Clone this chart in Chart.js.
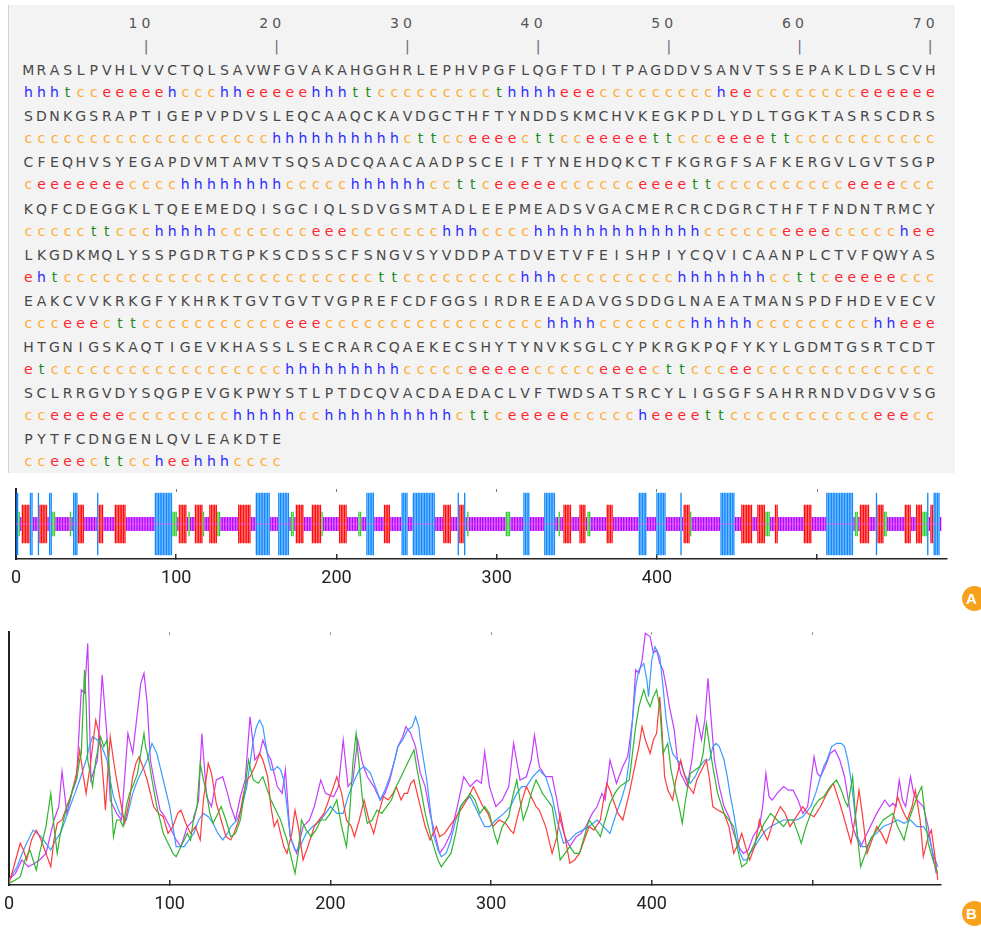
<!DOCTYPE html>
<html><head><meta charset="utf-8">
<script src="https://cdn.jsdelivr.net/npm/chart.js@4.4.1/dist/chart.umd.min.js"></script>
<style>
html,body{margin:0;padding:0;background:#fff;}
body{width:981px;height:930px;position:relative;overflow:hidden;}
#seqPanel{position:absolute;left:8px;top:5px;width:946px;height:468px;background:#f3f3f3;border-left:1px solid #cfd3da;}
.row{position:absolute;left:0;height:14px;line-height:14px;font-family:"DejaVu Sans";font-size:14px;white-space:nowrap;}
.cell{position:absolute;top:0;width:14px;text-align:center;}
canvas{position:absolute;left:0;}
.badge{position:absolute;left:962px;width:25px;height:25px;border-radius:50%;background:#f6a21d;color:#fff;font:bold 15px "Liberation Sans";line-height:25px;text-align:center;text-indent:-6px;}
</style></head><body>
<div id="seqPanel"></div>
<canvas id="trackChart" width="981" height="120" style="top:480px"></canvas>
<canvas id="lineChart" width="981" height="310" style="top:620px"></canvas>
<div class="badge" style="top:586px">A</div>
<div class="badge" style="top:901px">B</div>
<script>
// ---------- sequence panel data ----------
const rulerLabels = ['10','20','30','40','50','60','70'];
const seqLines = [
 'MRASLPVHLVVCTQLSAVWFGVAKAHGGHRLEPHVPGFLQGFTDITPAGDDVSANVTSSEPAKLDLSCVH',
 'SDNKGSRAPTIGEPVPDVSLEQCAAQCKAVDGCTHFTYNDDSKMCHVKEGKPDLYDLTGGKTASRSCDRS',
 'CFEQHVSYEGAPDVMTAMVTSQSADCQAACAADPSCEIFTYNEHDQKCTFKGRGFSAFKERGVLGVTSGP',
 'KQFCDEGGKLTQEEMEDQISGCIQLSDVGSMTADLEEPMEADSVGACMERCRCDGRCTHFTFNDNTRMCY',
 'LKGDKMQLYSSPGDRTGPKSCDSSCFSNGVSYVDDPATDVETVFEISHPIYCQVICAANPLCTVFQWYAS',
 'EAKCVVKRKGFYKHRKTGVTGVTVGPREFCDFGGSIRDREEADAVGSDDGLNAEATMANSPDFHDEVECV',
 'HTGNIGSKAQTIGEVKHASSLSECRARCQAEKECSHYTYNVKSGLCYPKRGKPQFYKYLGDMTGSRTCDT',
 'SCLRRGVDYSQGPEVGKPWYSTLPTDCQVACDAEDACLVFTWDSATSRCYLIGSGFSAHRRNDVDGVVSG',
 'PYTFCDNGENLQVLEAKDTE'
];
// secondary-structure annotation, written as runs per line
const ssRuns1 = ['hhh','t','cc','eeeee','h','ccc','hh','eeeee','hhh','tt','ccccccccc','t','hhhh','eee','ccccccccc','h','ee','cccccccc','eeeeee'];
const ssRuns2 = ['ccccccccccccccccccc','hhhhhhhhhh','c','tt','cc','eeee','c','tt','cc','eeeee','tt','ccc','eeee','tt','ccccccccccc'];
const ssRuns3 = ['c','eeeeeee','cccc','hhhhhhhh','ccccc','hhhhhh','cc','tt','c','eeeee','cccccc','eeee','tt','cccccccccc','eeee','ccc'];
const ssRuns4 = ['ccccc','tt','ccc','hhhhh','ccccccc','eee','ccccccc','hhh','cccc','hhhhhhhhhhhhh','cccccc','eeee','ccccc','h','ee'];
const ssRuns5 = ['e','h','t','cccccccccccccccccccccccc','tt','ccccccccc','hhh','ccccccccc','hhhhhhh','cc','tt','c','eeeee','ccc'];
const ssRuns6 = ['ccc','eee','c','tt','ccccccccccc','eee','ccccccccccccccccc','hhhh','ccccccc','hhhhh','ccccccccc','hh','eee'];
const ssRuns7 = ['e','t','cccccccccccccccccc','hhhhhhhhh','ccccc','eeeee','ccccc','eeee','c','tt','ccc','ee','cccccccccccccc'];
const ssRuns8 = ['cc','eeeeee','cccccccc','hhhhh','cc','hhhhhhhhhh','c','tt','c','eeeee','ccccc','h','eeee','tt','ccccccccccc','eee','cc'];
const ssRuns9 = ['cc','eee','c','tt','cc','h','ee','hhh','cccc'];
const ssLines = [ssRuns1,ssRuns2,ssRuns3,ssRuns4,ssRuns5,ssRuns6,ssRuns7,ssRuns8,ssRuns9].map(r => r.join(''));

// ---------- panel A (secondary-structure track) data ----------
const trackLength = 578;
const helixRuns = [[0,1],[9,10],[14,14],[21,22],[36,38],[51,51],[87,97],[150,158],[164,170],[219,223],[241,244],[248,261],[276,276],[280,280],[317,320],[330,336],[389,393],[400,405],[415,415],[440,448],[506,522],[537,537],[569,569],[573,576]];
const strandRuns = [[4,8],[15,19],[39,42],[52,54],[62,68],[102,106],[112,116],[121,125],[139,146],[175,179],[185,190],[202,206],[230,233],[267,271],[277,279],[342,346],[352,355],[369,372],[417,420],[453,459],[463,467],[474,475],[492,496],[527,532],[538,541],[555,558],[562,565],[571,572]];
const turnRuns = [[2,2],[23,24],[34,34],[98,100],[108,108],[117,117],[126,127],[172,173],[191,191],[214,215],[282,282],[306,308],[339,339],[357,358],[421,421],[468,470],[524,525],[542,543],[566,568]];
const xTickLabels = ['0','100','200','300','400'];

// ---------- panel B (profile lines) data ----------
const purpleRes = [0,4,8,12,16,19,23,28,31,33,36,39,42,45,47,49,51,55,58,61,63,67,70,74,77,82,84,86,88,91,94,97,100,104,107,111,115,118,120,123,126,129,133,136,138,141,144,147,150,153,156,158,161,163,167,170,172,175,179,183,187,190,194,197,202,205,208,211,214,217,220,223,227,231,234,237,240,242,245,247,250,253,256,259,262,265,268,271,275,279,283,287,291,294,296,299,303,307,311,314,318,322,325,327,330,334,338,341,343,346,349,353,356,359,363,366,369,371,374,378,382,385,388,390,392,394,396,399,401,403,405,407,409,411,414,416,418,420,422,425,428,431,433,435,437,439,442,445,448,451,454,457,460,463,467,469,471,473,475,478,482,485,488,491,494,497,501,503,505,508,511,514,517,520,523,525,528,530,533,536,540,545,548,550,552,554,556,558,561,563,565,569,572,574,577];
const purpleVal = [2.0,4.6,9.9,7.2,8.6,9.9,12.5,25.7,31.0,44.8,28.3,36.2,41.5,77.1,75.8,95.5,41.5,49.4,83.0,58.6,33.6,28.3,25.7,59.9,52.0,79.7,83.7,71.8,49.4,38.9,29.6,27.0,23.1,17.8,15.2,23.1,25.7,33.6,59.9,34.9,31.0,41.5,42.8,36.2,31.0,25.7,34.9,41.5,66.5,49.4,52.0,57.3,52.0,49.4,38.9,36.2,45.5,19.1,12.5,23.1,25.7,31.0,41.5,36.2,34.9,38.9,57.3,38.9,41.5,57.3,48.1,42.8,38.9,33.6,36.2,41.5,49.4,54.7,58.6,62.6,59.9,54.7,44.1,38.9,28.3,20.4,12.5,15.2,20.4,31.0,42.8,38.9,41.5,40.2,52.7,38.9,31.0,33.6,38.9,56.0,41.5,42.8,49.4,59.3,46.8,42.8,42.8,33.6,25.7,19.1,15.2,19.1,20.4,23.1,28.3,31.0,36.2,33.6,49.4,40.2,46.8,50.7,65.2,85.0,83.7,88.9,99.5,98.2,91.6,92.9,87.6,85.0,78.4,70.5,61.3,49.4,44.1,41.5,38.9,49.4,66.5,57.3,65.2,81.7,65.2,49.4,38.9,31.0,27.0,20.4,15.2,12.5,13.8,19.1,23.1,31.0,44.1,34.9,33.6,36.2,38.9,37.5,37.5,33.6,28.3,31.0,50.7,44.1,42.8,46.8,52.0,53.4,49.4,42.8,31.0,23.1,17.8,15.2,19.1,23.1,28.3,33.6,31.0,32.3,31.0,41.5,33.6,31.0,42.8,36.2,33.6,31.0,23.1,15.2,4.6];
const blueRes = [0,5,10,15,20,26,29,32,35,38,41,44,48,50,52,55,57,61,63,65,69,73,77,80,82,86,89,92,94,96,100,104,109,112,115,118,121,124,127,130,133,136,138,142,145,148,150,152,154,156,158,159,161,163,165,167,169,171,173,175,178,180,183,185,189,194,197,200,204,208,211,215,218,221,225,228,231,234,237,240,242,245,248,251,253,255,256,258,260,262,264,267,269,272,275,278,281,284,287,290,293,296,299,303,308,312,316,319,322,326,330,334,336,338,341,345,349,353,357,361,366,370,374,376,378,381,384,386,388,390,392,395,397,398,400,402,404,405,407,409,411,413,416,418,421,424,427,430,433,436,438,440,442,445,447,449,451,453,455,457,459,461,464,468,471,474,478,482,486,490,494,499,502,505,507,509,512,515,518,520,522,524,526,528,531,534,537,540,544,549,553,557,561,565,569,572,575,578];
const blueVal = [2.0,7.2,15.2,21.7,19.1,13.8,17.8,20.4,25.7,31.0,36.2,41.5,49.4,54.7,58.6,57.3,56.0,49.4,41.5,34.9,28.3,25.7,36.2,41.5,44.1,49.4,56.0,52.0,46.8,41.5,31.0,15.2,15.2,17.8,20.4,25.7,28.3,27.0,24.4,20.4,17.8,20.4,23.1,25.7,31.0,38.9,48.1,57.3,62.6,65.2,62.6,58.6,50.7,45.5,45.5,46.8,45.5,41.5,31.0,19.1,13.8,13.8,17.8,20.4,23.1,25.7,28.3,31.0,28.3,28.3,34.9,41.5,45.5,46.8,44.1,38.9,33.6,37.5,42.8,49.4,54.7,57.3,61.3,62.6,66.5,62.6,57.3,49.4,41.5,31.0,20.4,13.8,11.2,12.5,17.8,25.7,31.0,33.6,34.9,31.0,27.0,23.1,23.1,25.7,28.3,31.0,36.2,38.9,38.9,42.8,45.5,42.8,38.9,34.9,25.7,16.5,17.8,20.4,21.7,23.1,25.7,23.1,20.4,24.4,28.3,33.6,40.2,49.4,65.2,78.4,85.0,87.6,81.0,74.4,88.9,94.2,91.6,90.2,78.4,65.2,57.3,52.0,49.4,48.1,42.8,40.2,42.8,46.8,49.4,49.4,54.7,56.0,54.7,49.4,42.8,34.9,28.3,20.4,12.5,9.9,9.9,12.5,15.2,19.1,21.7,23.1,24.4,25.7,25.7,25.7,27.0,31.0,36.2,42.8,46.8,49.4,54.7,56.0,56.0,54.7,49.4,41.5,31.0,19.1,15.2,15.2,19.1,20.4,23.1,24.4,25.7,24.4,25.7,23.1,23.1,20.4,12.5,7.2];
const redRes = [0,3,7,9,11,14,17,20,23,26,28,30,33,36,39,42,44,46,48,51,54,56,57,59,60,62,63,65,67,70,72,75,77,79,81,84,86,88,90,93,96,99,102,105,107,110,113,116,119,121,124,126,129,132,135,138,140,143,146,148,150,153,156,158,161,163,165,167,169,171,173,176,178,180,183,186,190,193,196,199,202,204,207,210,213,215,218,221,224,227,230,233,236,239,241,244,246,248,250,252,254,256,259,262,264,266,268,271,274,277,281,285,287,289,292,295,298,301,305,309,312,314,317,320,322,325,328,330,334,338,341,343,346,349,352,355,358,361,364,368,370,372,374,376,379,382,384,386,389,392,394,396,399,401,403,405,406,408,410,413,415,418,420,423,426,428,431,434,436,438,441,445,448,451,454,456,459,461,464,467,469,472,476,480,483,486,490,494,497,501,505,509,513,517,520,524,527,529,531,534,537,540,543,546,549,553,556,559,562,564,567,569,572,574,576,578];
const redVal = [0.7,7.2,16.5,13.8,9.9,17.8,21.7,17.8,12.5,7.2,17.8,24.4,25.7,31.0,36.2,44.1,53.4,44.1,36.2,49.4,65.2,59.9,54.7,38.9,29.6,49.4,58.6,49.4,41.5,31.0,24.4,33.6,42.8,48.1,50.7,45.5,41.5,36.2,31.0,28.3,27.0,20.4,23.1,28.3,29.6,24.4,20.4,23.1,17.8,33.6,48.1,44.1,32.3,25.7,19.1,17.8,20.4,25.7,36.2,41.5,42.8,46.8,52.0,49.4,42.8,31.0,23.1,25.7,20.4,15.2,12.5,20.4,29.6,23.1,9.9,15.2,23.1,25.7,28.3,33.6,38.9,42.8,36.2,25.7,23.1,19.1,25.7,33.6,25.7,20.4,28.3,34.9,33.6,36.2,38.9,33.6,36.2,36.2,40.2,41.5,36.2,31.0,23.1,17.8,20.4,23.1,19.1,20.4,23.1,25.7,29.6,33.6,36.2,38.9,34.9,31.0,28.3,23.1,25.7,24.4,21.7,20.4,28.3,34.9,38.9,34.9,31.0,29.6,23.1,12.5,19.1,28.3,19.1,8.6,9.9,12.5,17.8,23.1,21.7,25.7,33.6,40.2,37.5,33.6,28.3,25.7,31.0,36.2,45.5,54.7,62.6,57.3,52.0,57.3,59.9,74.4,65.2,42.8,37.5,33.6,41.5,49.4,44.1,38.9,36.2,41.5,45.5,49.4,41.5,31.0,29.6,28.3,23.1,12.5,16.5,20.4,13.8,9.9,15.2,25.7,21.7,17.8,25.7,31.0,28.3,23.1,27.0,31.0,28.3,27.0,31.0,36.2,40.2,32.3,25.7,16.5,28.3,37.5,28.3,12.5,17.8,23.1,20.4,16.5,23.1,34.9,29.6,25.7,31.0,37.5,25.7,11.2,19.1,21.7,12.5,2.0];
const greenRes = [0,4,7,10,13,15,17,19,21,23,26,28,30,32,34,36,38,40,42,44,45,47,48,49,51,52,54,57,59,61,63,65,67,69,71,73,75,77,80,82,84,85,87,89,92,94,96,98,100,102,104,107,111,113,115,117,119,121,123,125,127,130,132,135,138,141,144,147,149,152,155,158,160,163,166,169,171,173,176,178,180,182,185,188,191,194,197,200,204,207,210,212,214,216,218,220,223,226,229,232,235,238,241,244,247,249,252,254,256,259,262,265,267,269,272,275,278,281,284,287,290,293,296,299,302,304,307,311,313,316,318,320,323,325,328,330,332,335,338,341,343,346,349,352,355,358,361,364,368,371,374,377,380,383,386,388,390,392,395,397,399,401,403,405,407,410,412,415,417,419,421,424,427,430,432,434,436,438,441,445,448,451,454,456,459,461,464,467,470,474,478,482,485,488,491,493,496,499,501,504,507,511,515,518,520,522,525,527,530,533,536,540,544,547,550,553,557,560,563,566,568,570,572,575,578];
const greenVal = [0.7,2.0,3.3,9.9,13.8,9.9,5.9,12.5,17.8,23.1,36.2,23.1,12.5,20.4,25.7,31.0,33.6,38.9,41.5,49.4,52.0,85.0,71.8,49.4,42.8,38.9,49.4,58.6,54.7,57.3,41.5,19.1,25.7,25.7,23.1,31.0,36.2,38.9,44.1,52.0,59.9,54.7,49.4,41.5,31.0,25.7,20.4,17.8,15.2,12.5,11.2,15.2,20.4,17.8,27.0,31.0,48.1,41.5,36.2,28.3,24.4,28.3,31.0,25.7,19.1,20.4,25.7,38.9,49.4,41.5,40.2,42.8,38.9,33.6,29.6,25.7,21.7,17.8,9.9,4.6,12.5,25.7,21.7,19.1,21.7,25.7,25.7,28.3,33.6,23.1,15.2,28.3,48.1,59.9,46.8,33.6,24.4,25.7,29.6,28.3,31.0,33.6,38.9,42.8,46.8,49.4,53.4,45.5,38.9,28.3,20.4,13.8,9.9,7.2,9.9,12.5,20.4,31.0,33.6,36.2,33.6,28.3,31.0,28.3,20.4,16.5,23.1,27.0,33.6,41.5,33.6,25.7,31.0,36.2,41.5,38.9,36.2,33.6,31.0,19.1,9.9,12.5,15.2,12.5,12.5,19.1,25.7,23.1,19.1,25.7,32.3,36.2,38.9,40.2,41.5,52.0,62.6,70.5,77.1,73.1,70.5,74.4,77.1,70.1,52.0,56.0,45.5,36.2,31.0,24.4,33.6,44.1,45.5,46.8,52.0,63.9,54.7,46.8,36.2,28.3,25.7,23.1,12.5,7.2,8.6,12.5,16.5,20.4,24.4,28.3,25.7,23.1,25.7,25.7,20.4,16.5,23.1,28.3,31.0,33.6,34.9,38.9,41.5,37.5,33.6,31.0,42.8,25.7,7.2,12.5,17.8,21.7,25.7,27.0,28.3,23.1,17.8,25.7,31.0,36.2,38.9,28.3,16.5,9.9,4.6];

// ---------- styles ----------
const ssColor = {h:'#2a2aff', e:'#ff2530', c:'#ffad33', t:'#1d8c22'};
const trackStyle = {
  c:{half:0.20, color:'#b600ff'},
  e:{half:0.55, color:'#ff0a0a'},
  h:{half:0.89, color:'#1088ff'},
  t:{half:0.35, color:'#2fcf2f'}
};

// ---------- build sequence panel (DOM text) ----------
const panel = document.getElementById('seqPanel');
const panelLeft = 9, panelTop = 5;
const cellX = i => 28.4 + 13.07 * (i - 1) - panelLeft - 7; // left of 14px cell
function addRow(baseline, chars, colorFn){
  const row = document.createElement('div');
  row.className = 'row';
  row.style.top = (baseline - 11.85 - panelTop) + 'px';
  chars.forEach(([pos, ch]) => {
    const s = document.createElement('span');
    s.className = 'cell';
    s.style.left = cellX(pos) + 'px';
    s.style.color = colorFn(ch);
    s.textContent = ch;
    row.appendChild(s);
  });
  panel.appendChild(row);
}
const rulerChars = [], barChars = [];
rulerLabels.forEach(lbl => {
  const end = parseInt(lbl, 10);
  [...lbl].forEach((d, k) => rulerChars.push([end - lbl.length + 1 + k, d]));
  barChars.push([end, '|']);
});
addRow(28, rulerChars, () => '#555');
addRow(50.5, barChars, () => '#5f6b7c');
seqLines.forEach((seq, k) => {
  addRow(75 + 46.15 * k, [...seq].map((c, i) => [i + 1, c]), () => '#484848');
  addRow(97 + 46.15 * k, [...ssLines[k]].map((c, i) => [i + 1, c]), c => ssColor[c]);
});

// ---------- track codes ----------
const codes = new Array(trackLength).fill('c');
[[helixRuns,'h'],[strandRuns,'e'],[turnRuns,'t']].forEach(([runs, code]) =>
  runs.forEach(([a, b]) => { for (let r = a; r <= b; r++) codes[r] = code; }));

const axisFont = {family:'Roboto, "Liberation Sans", sans-serif', size:18};
function fixX(h){ return s => { s.height = h; s.paddingLeft = 0; s.paddingRight = 0; }; }
function fixW(w){ return s => { s.width = w; s.paddingTop = 0; s.paddingBottom = 0; }; }
const labelCb = v => xTickLabels.includes(String(v)) ? String(v) : '';

// ---------- chart A ----------
new Chart(document.getElementById('trackChart'), {
  type:'bar',
  data:{datasets:[
    {type:'line', data:[{x:0,y:0},{x:trackLength-1,y:0}], borderColor:'rgba(255,80,255,0.9)', borderWidth:0.8, pointRadius:0, order:0},
    {type:'bar', data:codes.map((c, r) => ({x:r, y:[-trackStyle[c].half, trackStyle[c].half]})),
     backgroundColor:codes.map(c => trackStyle[c].color), borderWidth:0,
     barPercentage:0.82, categoryPercentage:1, order:1}
  ]},
  options:{
    responsive:false, animation:false, devicePixelRatio:1,
    layout:{padding:{left:0,right:34,top:0,bottom:0}},
    plugins:{legend:{display:false}, tooltip:{enabled:false}},
    scales:{
      x:{type:'linear', position:'bottom', min:0, max:581, offset:false, afterFit:fixX(41),
         ticks:{stepSize:100, includeBounds:false, autoSkip:false, maxRotation:0, callback:labelCb, color:'#222', font:axisFont, padding:14},
         grid:{drawOnChartArea:false, offset:false, tickLength:-5, color:'#333', lineWidth:1.5},
         border:{color:'#222', width:1.5}},
      xt:{type:'linear', position:'top', min:0, max:581, offset:false, afterFit:fixX(9),
         ticks:{display:false, stepSize:100, includeBounds:false},
         grid:{drawOnChartArea:false, offset:false, tickLength:-3, color:'#777', lineWidth:1},
         border:{display:false}},
      y:{min:-1, max:1, afterFit:fixW(16), ticks:{display:false}, grid:{display:false},
         border:{color:'#222', width:2}}
    }
  }
});

// ---------- chart B ----------
const toPts = (xs, ys) => xs.map((x, i) => ({x, y:ys[i]}));
const lineDs = (xs, ys, color, order) => ({data:toPts(xs, ys), borderColor:color, borderWidth:1.2, pointRadius:0, tension:0, order});
new Chart(document.getElementById('lineChart'), {
  type:'line',
  data:{datasets:[
    lineDs(greenRes, greenVal, '#2fb52f', 0),
    lineDs(redRes, redVal, '#ff3b3b', 1),
    lineDs(blueRes, blueVal, '#3a9bff', 2),
    lineDs(purpleRes, purpleVal, '#c63cff', 3)
  ]},
  options:{
    responsive:false, animation:false, devicePixelRatio:1,
    layout:{padding:{left:0,right:40,top:0,bottom:0}},
    plugins:{legend:{display:false}, tooltip:{enabled:false}},
    scales:{
      x:{type:'linear', position:'bottom', min:0, max:580, afterFit:fixX(45),
         ticks:{stepSize:100, includeBounds:false, autoSkip:false, maxRotation:0, callback:labelCb, color:'#222', font:axisFont, padding:14},
         grid:{drawOnChartArea:false, tickLength:-5, color:'#333', lineWidth:1.5},
         border:{color:'#222', width:1.5}},
      xt:{type:'linear', position:'top', min:0, max:580, afterFit:fixX(12),
         ticks:{display:false, stepSize:100, includeBounds:false},
         grid:{drawOnChartArea:false, tickLength:-3, color:'#999', lineWidth:1},
         border:{display:false}},
      y:{min:0, max:100, afterFit:fixW(9), ticks:{display:false}, grid:{display:false},
         border:{color:'#222', width:2}}
    }
  }
});
</script>
</body></html>
